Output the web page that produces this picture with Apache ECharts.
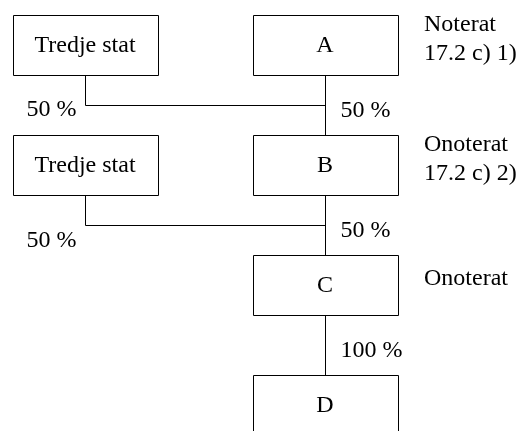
<!DOCTYPE html>
<html><head><meta charset="utf-8">
<script src="https://cdn.jsdelivr.net/npm/echarts@6/dist/echarts.min.js"></script>
<style>html,body{margin:0;padding:0;background:#fff}#c{width:518px;height:431px}</style>
</head><body><div id="c"></div>
<script>
// ---- data ----
const columns = ['Tredje stat', 'Koncern'];
const levels = ['A', 'B', 'C', 'D'];
const nodeNames = ['Tredje stat', 'A', 'Tredje stat', 'B', 'C', 'D'];
const nodeColumn = ['Tredje stat', 'Koncern', 'Tredje stat', 'Koncern', 'Koncern', 'Koncern'];
const nodeLevel = ['A', 'A', 'B', 'B', 'C', 'D'];
const levelStatus = ['Noterat\n17.2 c) 1)', 'Onoterat\n17.2 c) 2)', 'Onoterat', ''];
const edgeOwner = [0, 1, 2, 3, 4];
const edgeOwned = [3, 3, 4, 4, 5];
const ownershipPct = [50, 50, 50, 50, 100];

// ---- style ----
const FONT = '"Liberation Serif", "Times New Roman", serif';
const FS = 24;
const BOX_W = 145, BOX_H = 60;
const crossLabelDrop = [4, 15];
const px = v => Math.round(v) + 0.5;
const textStyle = (t, align) => ({ text: t, fontFamily: FONT, fontSize: FS, fill: '#000', align: align, verticalAlign: 'middle', lineHeight: 29 });

const colIdx = n => columns.indexOf(n);
const lvlIdx = n => levels.indexOf(n);

const boxData = nodeNames.map((n, i) => [colIdx(nodeColumn[i]), lvlIdx(nodeLevel[i]), n]);
const edgeData = edgeOwner.map((o, i) => {
  const t = edgeOwned[i];
  return [colIdx(nodeColumn[o]), lvlIdx(nodeLevel[o]), colIdx(nodeColumn[t]), lvlIdx(nodeLevel[t]), ownershipPct[i]];
});
const statusData = levels.map((l, i) => [colIdx('Koncern'), i, levelStatus[i]]);

let crossCount = 0;
const chart = echarts.init(document.getElementById('c'), null, { renderer: 'canvas' });
chart.setOption({
  animation: false,
  backgroundColor: '#fff',
  grid: { left: 85, right: 193, top: 45, bottom: 26 },
  xAxis: { type: 'category', data: columns, boundaryGap: false, show: false },
  yAxis: { type: 'category', data: levels, boundaryGap: false, inverse: true, show: false },
  series: [
    {
      type: 'custom', coordinateSystem: 'cartesian2d', clip: false,
      encode: { x: [0, 2], y: [1, 3] },
      data: edgeData,
      renderItem: (params, api) => {
        if (params.dataIndex === 0) crossCount = 0;
        const o = api.coord([api.value(0), api.value(1)]);
        const t = api.coord([api.value(2), api.value(3)]);
        const pct = api.value(4) + ' %';
        const oBottom = px(o[1] + BOX_H / 2), tTop = px(t[1] - BOX_H / 2);
        const ls = { stroke: '#000', lineWidth: 1, fill: null };
        if (api.value(0) === api.value(2)) {
          const x = px(o[0]);
          return { type: 'group', children: [
            { type: 'line', shape: { x1: x, y1: oBottom, x2: x, y2: tTop }, style: ls },
            { type: 'text', x: x + 15, y: (oBottom + tTop) / 2 + 5, style: textStyle(pct, 'left') }
          ]};
        }
        const midY = px((o[1] + t[1]) / 2);
        const drop = crossLabelDrop[crossCount++] || 4;
        return { type: 'group', children: [
          { type: 'polyline', shape: { points: [[px(o[0]), oBottom], [px(o[0]), midY], [px(t[0]), midY]] }, style: ls },
          { type: 'text', x: o[0] - 33.5, y: midY + drop, style: textStyle(pct, 'center') }
        ]};
      }
    },
    {
      type: 'custom', coordinateSystem: 'cartesian2d', clip: false,
      encode: { x: 0, y: 1 },
      data: boxData,
      renderItem: (params, api) => {
        const c = api.coord([api.value(0), api.value(1)]);
        const name = boxData[params.dataIndex][2];
        const x0 = px(c[0] - BOX_W / 2), y0 = px(c[1] - BOX_H / 2);
        return { type: 'group', children: [
          { type: 'rect', shape: { x: x0, y: y0, width: BOX_W, height: BOX_H }, style: { fill: '#fff', stroke: '#000', lineWidth: 1 } },
          { type: 'text', x: c[0], y: c[1] + 1, style: textStyle(name, 'center') }
        ]};
      }
    },
    {
      type: 'custom', coordinateSystem: 'cartesian2d', clip: false,
      encode: { x: 0, y: 1 },
      data: statusData,
      renderItem: (params, api) => {
        const c = api.coord([api.value(0), api.value(1)]);
        const txt = statusData[params.dataIndex][2];
        return { type: 'text', x: c[0] + 99, y: c[1] - 6, style: textStyle(txt, 'left') };
      }
    }
  ]
});
</script></body></html>
